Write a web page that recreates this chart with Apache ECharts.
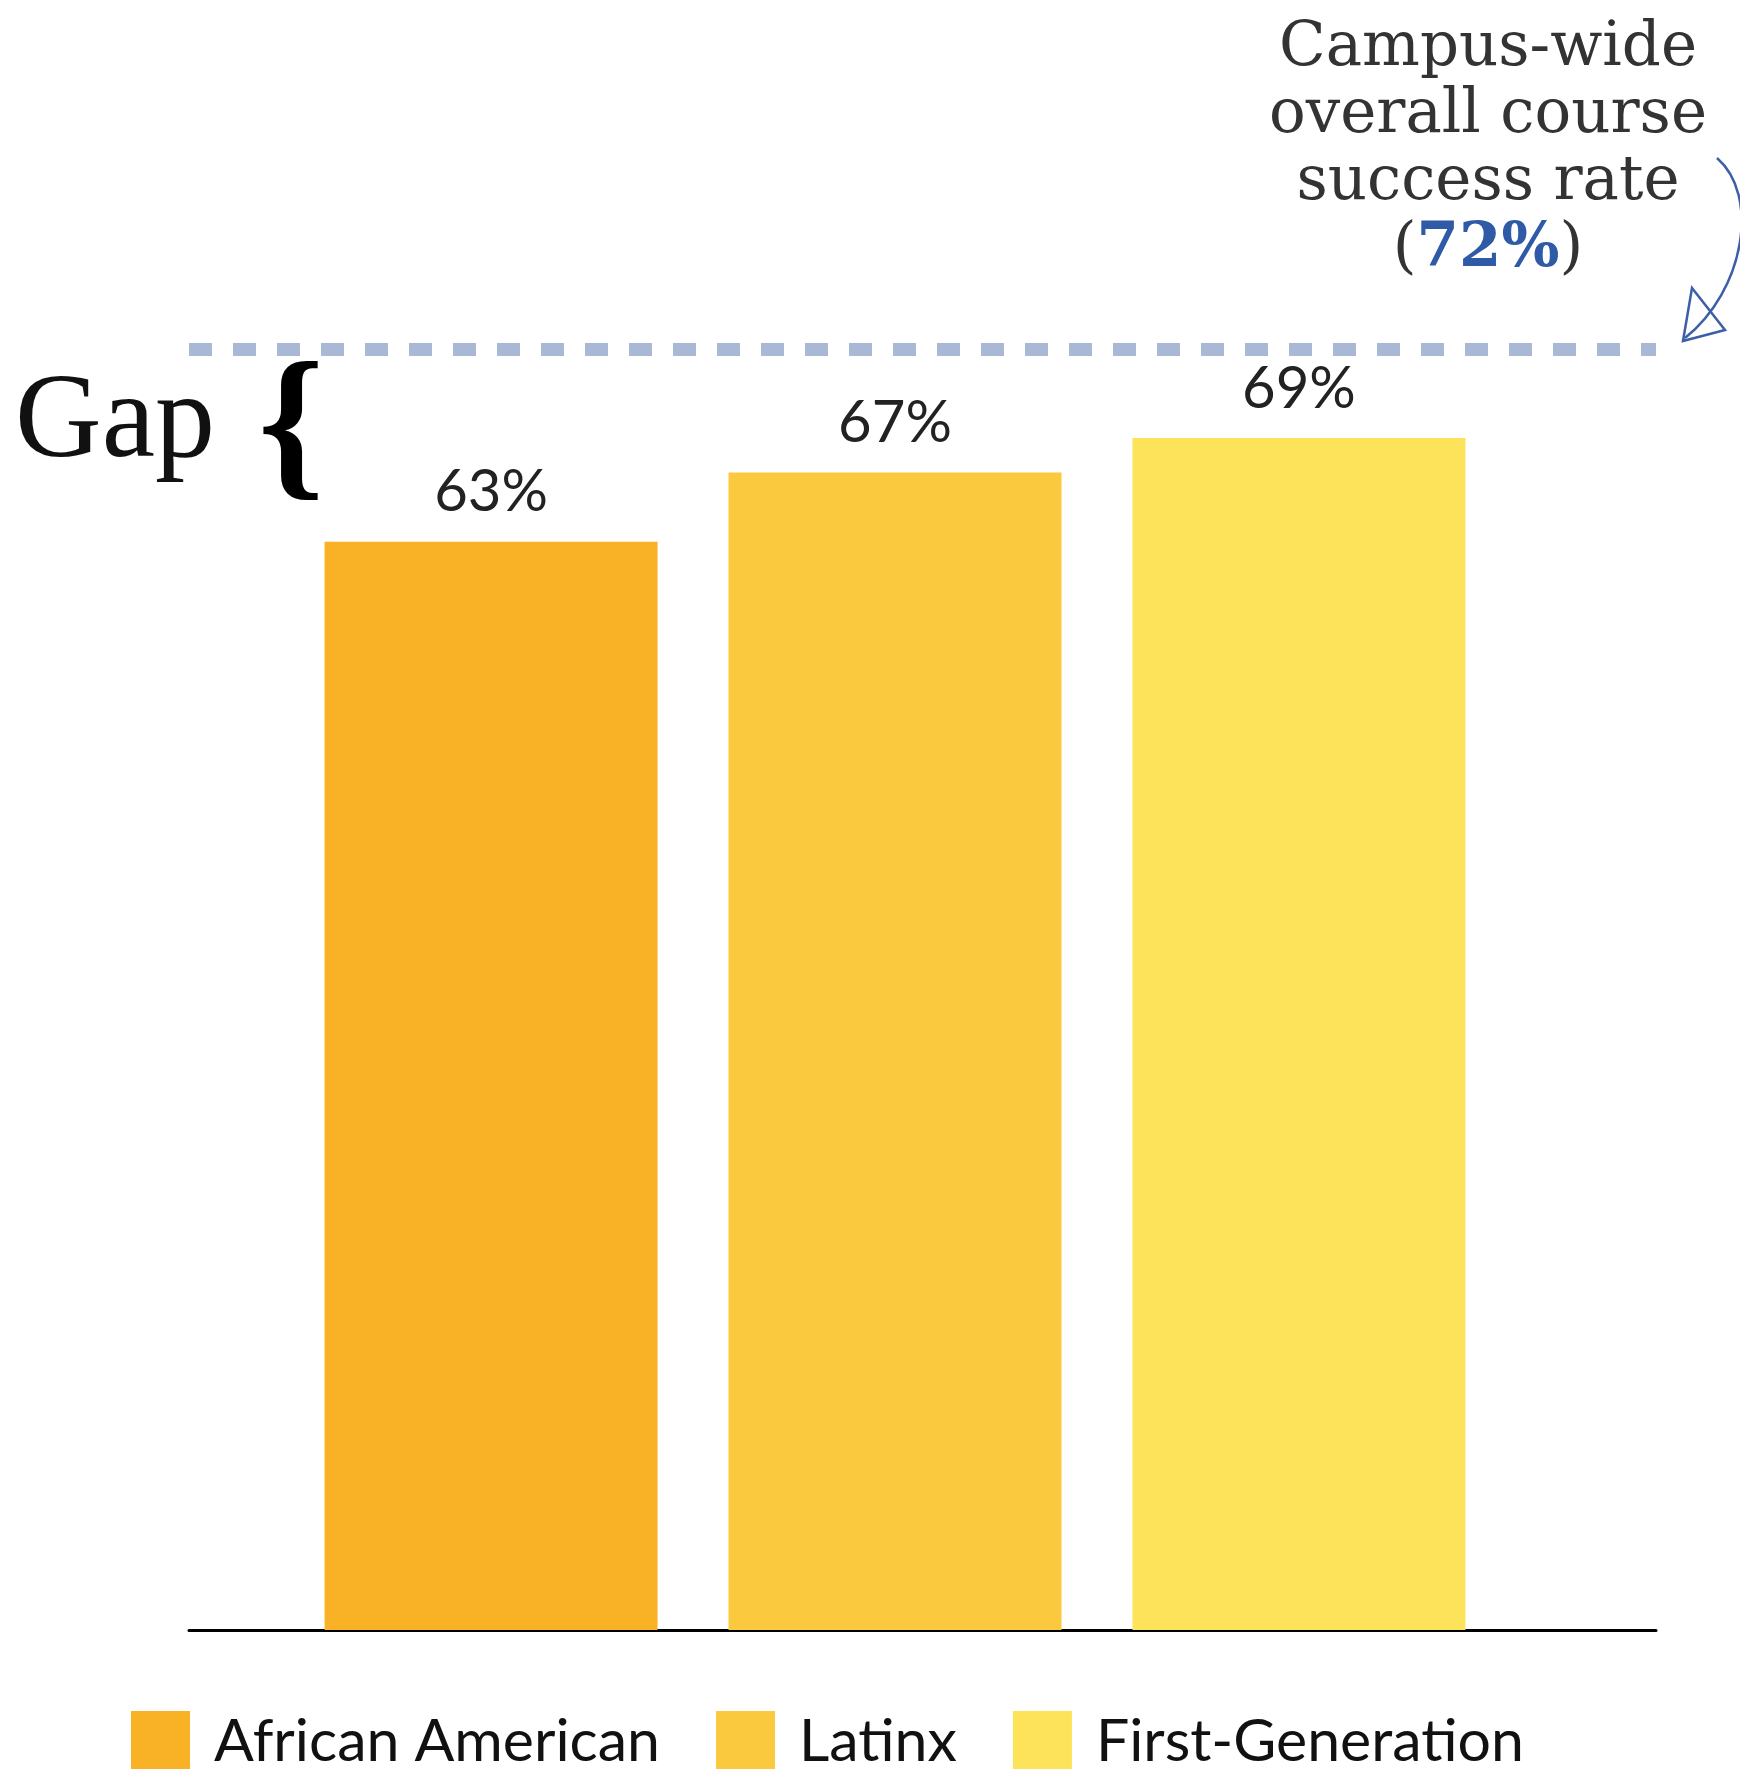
<!DOCTYPE html>
<html>
<head>
<meta charset="UTF-8">
<title>Course success rate gap</title>
<script src="https://cdn.jsdelivr.net/npm/echarts@6/dist/echarts.min.js"></script>
<style>
  html, body { margin: 0; padding: 0; background: #fff; }
  #main { width: 1740px; height: 1769px; }
</style>
</head>
<body>
<div id="main"></div>
<script type="text/javascript">
  // data
  var groups = ['African American', 'Latinx', 'First-Generation'];
  var rates = [63, 67, 69];
  var campusRate = 72;

  var barColors = ['#F9B226', '#FBC93E', '#FDE35A'];

  var myChart = echarts.init(document.getElementById('main'));

  var series = [];
  for (var i = 0; i < groups.length; i++) {
    series.push({
      name: groups[i],
      type: 'bar',
      xAxisIndex: 0,
      yAxisIndex: 0,
      barWidth: 333,
      barGap: '21.3%',
      itemStyle: { color: barColors[i] },
      label: {
        show: true,
        position: 'top',
        distance: 20,
        fontFamily: 'Lato',
        fontSize: 58,
        color: '#222',
        formatter: '{c}%'
      },
      data: [rates[i]]
    });
  }
  // campus-wide reference line
  series.push({
    name: 'campus',
    type: 'line',
    xAxisIndex: 1,
    yAxisIndex: 1,
    data: [null],
    silent: true,
    markLine: {
      silent: true,
      symbol: 'none',
      label: { show: false },
      lineStyle: { color: '#A9B9D5', width: 13, type: [23, 21] },
      data: [{ yAxis: campusRate }]
    }
  });

  var option = {
    animation: false,
    backgroundColor: '#fff',
    grid: [
      { left: 166, right: 116, top: 248, bottom: 139 },
      { left: 189, right: 84, top: 248, bottom: 139 }
    ],
    xAxis: [
      { gridIndex: 0, type: 'category', data: [''],
        axisLine: { show: false }, axisTick: { show: false }, axisLabel: { show: false } },
      { gridIndex: 1, type: 'category', data: [''],
        axisLine: { show: true, lineStyle: { color: '#000', width: 3 } },
        axisTick: { show: false }, axisLabel: { show: false } }
    ],
    yAxis: [
      { gridIndex: 0, type: 'value', min: 0, max: 80, show: false, splitLine: { show: false } },
      { gridIndex: 1, type: 'value', min: 0, max: 77.7, show: false, splitLine: { show: false } }
    ],
    legend: {
      data: groups,
      left: 126,
      top: 1706,
      icon: 'rect',
      itemWidth: 59,
      itemHeight: 62,
      itemGap: 56,
      textStyle: {
        fontFamily: 'Lato',
        fontSize: 59,
        color: '#111',
        padding: [0, 0, 0, 19]
      }
    },
    graphic: [
      {
        type: 'text',
        x: 1488,
        y: 16,
        style: {
          text: '{a|Campus-wide}\n{a|overall course}\n{a|success rate}\n{a|(}{v|' + campusRate + '%}{a|)}',
          align: 'center',
          verticalAlign: 'top',
          rich: {
            a: { fontFamily: 'DejaVu Serif', fontSize: 61, lineHeight: 67, fill: '#333', align: 'center' },
            v: { fontFamily: 'DejaVu Serif', fontSize: 61, lineHeight: 67, fontWeight: 'bold', fill: '#2E5AA6', align: 'center' }
          }
        }
      },
      {
        type: 'bezierCurve',
        shape: { x1: 1717, y1: 158, cpx1: 1760, cpy1: 195, cpx2: 1745, cpy2: 290, x2: 1685, y2: 338 },
        style: { stroke: '#3C5FA8', lineWidth: 2.5, fill: null }
      },
      {
        type: 'polygon',
        shape: { points: [[1683, 341], [1692, 288], [1725, 330]] },
        style: { stroke: '#3C5FA8', lineWidth: 2.5, fill: null }
      },
      {
        type: 'text',
        x: 15,
        y: 424,
        style: {
          text: 'Gap',
          fontFamily: 'Liberation Serif',
          fontSize: 120,
          fill: '#111',
          verticalAlign: 'middle'
        }
      },
      {
        type: 'text',
        x: 258,
        y: 434,
        style: {
          text: '{',
          fontFamily: 'Liberation Serif',
          fontWeight: 'bold',
          fontSize: 168,
          fill: '#000',
          verticalAlign: 'middle'
        }
      }
    ],
    series: series
  };
  myChart.setOption(option);
</script>
</body>
</html>
